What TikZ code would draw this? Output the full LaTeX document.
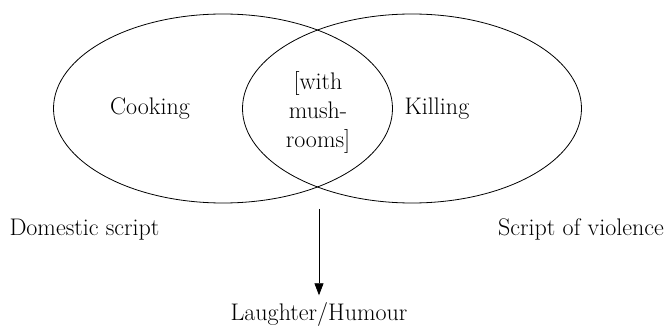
\documentclass[tikz,border=0pt]{standalone}
\usetikzlibrary{shapes.geometric,arrows.meta}
\begin{document}
\begin{tikzpicture}
  [x=1pt,y=-1pt,line width=.8pt,
   every node/.style={font=\fontsize{24}{29}\selectfont},
   script/.style={ellipse,draw,inner sep=0pt,minimum width=339pt,minimum height=189pt}]
  \useasboundingbox (0,0) rectangle (665,326);
  \node[script] (dom) at (223,108.5) {};
  \node[script] (vio) at (412,108.5) {};
  \node (cook) at (150,109) {Cooking};
  \node (kill) at (437,109) {Killing};
  \node[align=center] (mush) at (318,113) {[with\\mush-\\rooms]};
  \node (domlbl) at (84.5,229.5) {Domestic script};
  \node (violbl) at (581,229.5) {Script of violence};
  \node (laugh) at (319,314) {Laughter/Humour};

  \coordinate (src) at (319,209);
  \draw[-{Triangle[width=9pt,length=12pt]},shorten >=3pt] (src) -- (laugh);

\end{tikzpicture}
\end{document}
